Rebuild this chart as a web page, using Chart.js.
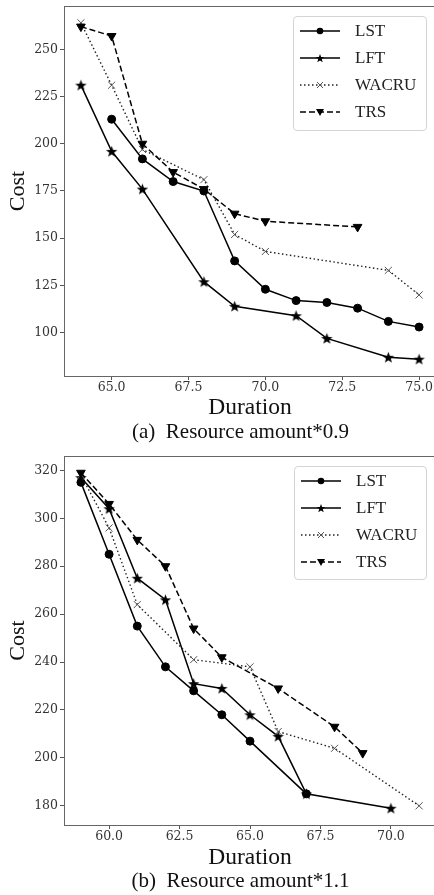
<!DOCTYPE html>
<html><head><meta charset="utf-8">
<script src="https://cdn.jsdelivr.net/npm/chart.js@4.4.1/dist/chart.umd.min.js"></script>
<style>
html,body{margin:0;padding:0;width:434px;height:895px;overflow:hidden;background:#fff;}
#page{position:absolute;left:0;top:0;width:434px;height:895px;overflow:hidden;}
.cv{position:absolute;left:0;}
.legend{position:absolute;border:1px solid #d4d4d4;border-radius:4px;background:rgba(255,255,255,0.85);box-sizing:border-box;}
.entry{position:absolute;left:0;height:20px;width:100%;}
.entry canvas{position:absolute;left:6px;top:2px;}
.entry span{position:absolute;left:61px;top:0;line-height:20px;font-size:17px;font-family:"Liberation Serif",serif;color:#222;white-space:nowrap;}
.caption{position:absolute;left:0;width:481px;text-align:center;font-size:21px;font-family:"Liberation Serif",serif;line-height:24px;white-space:pre;color:#111;}
</style></head>
<body>
<div id="page">
<canvas id="c1" class="cv" style="top:0px" width="460" height="420"></canvas>
<div class="caption" style="top:419px">(a)  Resource amount*0.9</div>
<canvas id="c2" class="cv" style="top:440px" width="460" height="430"></canvas>
<div class="caption" style="top:868px">(b)  Resource amount*1.1</div>
<div id="lg1" class="legend" style="left:293px;top:16px;width:134px;height:115px"></div>
<div id="lg2" class="legend" style="left:294px;top:466px;width:133px;height:114px"></div>
</div>
<script>
// ---------- data: (a) Resource amount*0.9 ----------
const seriesNames = ['LST', 'LFT', 'WACRU', 'TRS'];

const aLST_x   = [65, 66, 67, 68, 69, 70, 71, 72, 73, 74, 75];
const aLST_y   = [213, 192, 180, 175, 138, 123, 117, 116, 113, 106, 103];
const aLFT_x   = [64, 65, 66, 68, 69, 71, 72, 74, 75];
const aLFT_y   = [231, 196, 176, 127, 114, 109, 97, 87, 86];
const aWACRU_x = [64, 65, 66, 68, 69, 70, 74, 75];
const aWACRU_y = [264, 231, 197, 181, 152, 143, 133, 120];
const aTRS_x   = [64, 65, 66, 67, 68, 69, 70, 73];
const aTRS_y   = [262, 257, 200, 185, 176, 163, 159, 156];
const aXTicks  = [65, 67.5, 70, 72.5, 75];
const aYTicks  = [100, 125, 150, 175, 200, 225, 250];

// ---------- data: (b) Resource amount*1.1 ----------
const bLST_x   = [59, 60, 61, 62, 63, 64, 65, 67];
const bLST_y   = [315, 285, 255, 238, 228, 218, 207, 185];
const bLFT_x   = [59, 60, 61, 62, 63, 64, 65, 66, 67, 70];
const bLFT_y   = [317, 304, 275, 266, 231, 229, 218, 209, 185, 179];
const bWACRU_x = [59, 60, 61, 63, 65, 66, 68, 71];
const bWACRU_y = [318, 296, 264, 241, 238, 211, 204, 180];
const bTRS_x   = [59, 60, 61, 62, 63, 64, 66, 68, 69];
const bTRS_y   = [319, 306, 291, 280, 254, 242, 229, 213, 202];
const bXTicks  = [60, 62.5, 65, 67.5, 70];
const bYTicks  = [180, 200, 220, 240, 260, 280, 300, 320];

const xLabel = 'Duration';
const yLabel = 'Cost';

// ---------- helpers ----------
function pts(xs, ys) { return xs.map((x, i) => ({x: x, y: ys[i]})); }

function drawStar(ctx, cx, cy, ro, ri) {
  ctx.beginPath();
  for (let i = 0; i < 10; i++) {
    const r = i % 2 === 0 ? ro : ri;
    const a = -Math.PI / 2 + i * Math.PI / 5;
    const px = cx + r * Math.cos(a), py = cy + r * Math.sin(a);
    if (i === 0) ctx.moveTo(px, py); else ctx.lineTo(px, py);
  }
  ctx.closePath();
  ctx.fillStyle = '#000';
  ctx.fill();
}
const starImg = document.createElement('canvas');
starImg.width = 13; starImg.height = 13;
drawStar(starImg.getContext('2d'), 6.5, 7, 6, 2.5);

const styles = [
  {color: '#000', dash: [], width: 1.5, marker: 'circle'},
  {color: '#000', dash: [], width: 1.5, marker: 'star'},
  {color: '#222', dash: [1.5, 2.5], width: 1.4, marker: 'x'},
  {color: '#000', dash: [6, 3], width: 1.5, marker: 'tri'}
];

function makeDataset(i, data) {
  const s = styles[i];
  const ds = {
    label: seriesNames[i], data: data,
    borderColor: s.color, borderWidth: s.width, borderDash: s.dash,
    backgroundColor: '#000', fill: false, tension: 0,
    pointBackgroundColor: '#000', pointBorderColor: '#000', pointBorderWidth: 1,
    order: 4 - i
  };
  if (s.marker === 'circle') { ds.pointStyle = 'circle'; ds.pointRadius = 4; }
  if (s.marker === 'star') { ds.pointStyle = starImg; ds.pointRadius = 5; }
  if (s.marker === 'x') { ds.pointStyle = 'crossRot'; ds.pointRadius = 5; ds.pointBorderColor = '#555'; ds.pointBorderWidth = 1; }
  if (s.marker === 'tri') { ds.pointStyle = 'triangle'; ds.pointRotation = 180; ds.pointRadius = 5; }
  return ds;
}

function range(arrs, margin) {
  const all = [].concat(...arrs);
  const lo = Math.min(...all), hi = Math.max(...all);
  const m = (hi - lo) * margin;
  return [lo - m, hi + m];
}

const frame = {
  id: 'frame',
  beforeDatasetsDraw(chart) {
    const {ctx, chartArea: a} = chart;
    ctx.save();
    ctx.strokeStyle = '#666'; ctx.lineWidth = 1;
    ctx.beginPath();
    ctx.moveTo(a.left, a.top + 0.5); ctx.lineTo(a.right, a.top + 0.5);
    ctx.stroke();
    ctx.restore();
  }
};

function makeChart(id, datasets, xTicks, yTicks, xr, yr, padTop, xAxisH) {
  return new Chart(document.getElementById(id), {
    type: 'line',
    data: {datasets: datasets},
    plugins: [frame],
    options: {
      responsive: false, animation: false,
      layout: {padding: {top: padTop, right: 24, left: 0, bottom: 0}},
      plugins: {legend: {display: false}, tooltip: {enabled: false}},
      scales: {
        x: {
          type: 'linear', min: xr[0], max: xr[1],
          afterBuildTicks: s => { s.ticks = xTicks.map(v => ({value: v})); },
          afterFit: s => { s.height = xAxisH; s.paddingLeft = 0; s.paddingRight = 0; },
          ticks: {callback: v => Number(v).toFixed(1), font: {family: 'DejaVu Serif', size: 12.5, lineHeight: 1}, color: '#333', padding: 1, maxRotation: 0, autoSkip: false},
          grid: {drawOnChartArea: false, drawTicks: true, tickLength: 4, tickColor: '#555'},
          border: {color: '#666', width: 1},
          title: {display: true, text: xLabel, font: {family: 'Liberation Serif', size: 23.5, lineHeight: 1}, color: '#111', padding: 0}
        },
        y: {
          type: 'linear', min: yr[0], max: yr[1],
          afterBuildTicks: s => { s.ticks = yTicks.map(v => ({value: v})); },
          afterFit: s => { s.width = 64; s.paddingTop = 0; s.paddingBottom = 0; },
          ticks: {callback: v => String(v), font: {family: 'DejaVu Serif', size: 12.5, lineHeight: 1}, color: '#333', padding: 2, autoSkip: false},
          grid: {drawOnChartArea: false, drawTicks: true, tickLength: 4, tickColor: '#555'},
          border: {color: '#666', width: 1},
          title: {display: true, text: yLabel, font: {family: 'Liberation Serif', size: 22, lineHeight: 1}, color: '#111', padding: {top: 7, bottom: 0}}
        }
      }
    }
  });
}

const aSets = [pts(aLST_x, aLST_y), pts(aLFT_x, aLFT_y), pts(aWACRU_x, aWACRU_y), pts(aTRS_x, aTRS_y)];
const bSets = [pts(bLST_x, bLST_y), pts(bLFT_x, bLFT_y), pts(bWACRU_x, bWACRU_y), pts(bTRS_x, bTRS_y)];

makeChart('c1', aSets.map((d, i) => makeDataset(i, d)), aXTicks, aYTicks,
  range([aLST_x, aLFT_x, aWACRU_x, aTRS_x], 0.05), range([aLST_y, aLFT_y, aWACRU_y, aTRS_y], 0.05), 6, 44);
makeChart('c2', bSets.map((d, i) => makeDataset(i, d)), bXTicks, bYTicks,
  range([bLST_x, bLFT_x, bWACRU_x, bTRS_x], 0.05), range([bLST_y, bLFT_y, bWACRU_y, bTRS_y], 0.05), 16, 45);

// ---------- legends ----------
function buildLegend(id) {
  const box = document.getElementById(id);
  const tops = [4, 31, 58, 85];
  seriesNames.forEach((name, i) => {
    const e = document.createElement('div');
    e.className = 'entry'; e.style.top = tops[i] + 'px';
    const c = document.createElement('canvas');
    c.width = 42; c.height = 16;
    const ctx = c.getContext('2d');
    const s = styles[i];
    ctx.strokeStyle = s.color; ctx.lineWidth = s.width; ctx.setLineDash(s.dash);
    ctx.beginPath(); ctx.moveTo(0, 8); ctx.lineTo(40, 8); ctx.stroke();
    ctx.setLineDash([]);
    ctx.fillStyle = '#000';
    if (s.marker === 'circle') { ctx.beginPath(); ctx.arc(20, 8, 3.3, 0, Math.PI * 2); ctx.fill(); }
    if (s.marker === 'star') { drawStar(ctx, 20, 8.5, 4.5, 1.9); }
    if (s.marker === 'x') { ctx.strokeStyle = '#555'; ctx.lineWidth = 1; ctx.beginPath(); ctx.moveTo(17, 5); ctx.lineTo(23, 11); ctx.moveTo(23, 5); ctx.lineTo(17, 11); ctx.stroke(); }
    if (s.marker === 'tri') { ctx.beginPath(); ctx.moveTo(16, 5); ctx.lineTo(24, 5); ctx.lineTo(20, 12); ctx.closePath(); ctx.fill(); }
    const t = document.createElement('span');
    t.textContent = name;
    e.appendChild(c); e.appendChild(t);
    box.appendChild(e);
  });
}
buildLegend('lg1');
buildLegend('lg2');
</script>
</body></html>
